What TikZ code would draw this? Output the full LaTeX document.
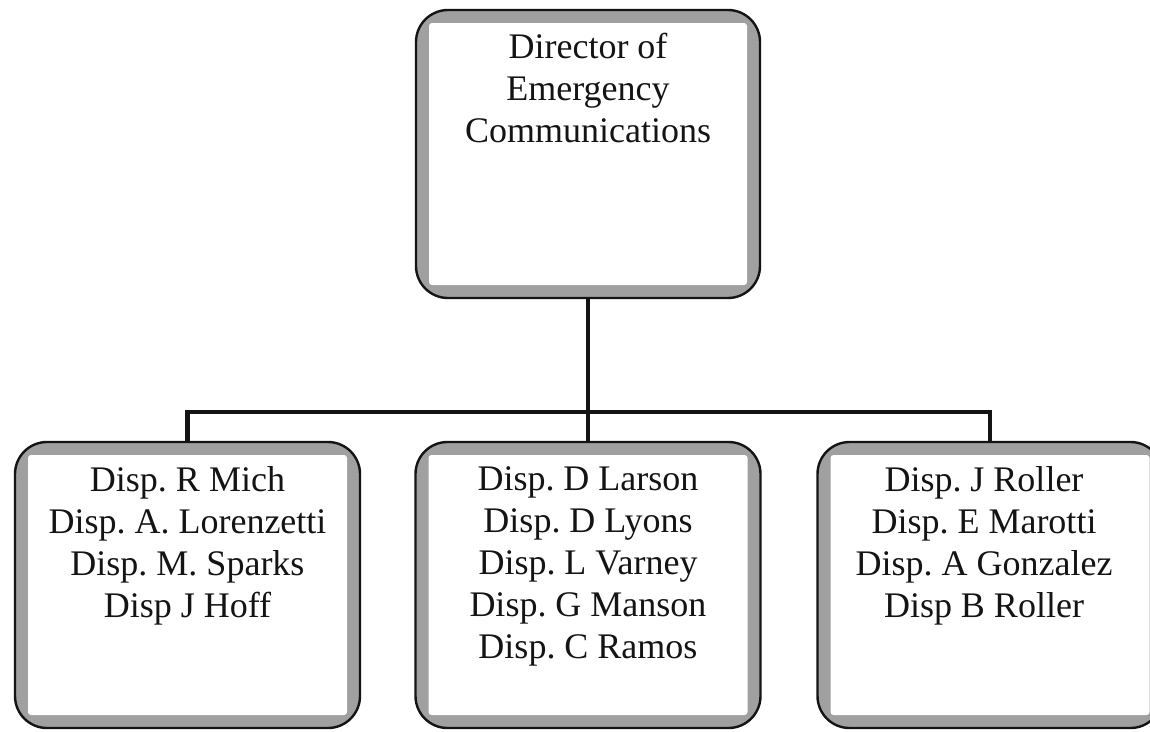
\documentclass[tikz,border=0pt]{standalone}
\usepackage{fontspec}
\setmainfont{Liberation Serif}
\frenchspacing
\definecolor{bandgray}{HTML}{A0A0A0}
\definecolor{inkblack}{HTML}{141414}
\tikzset{
  orgbox/.style={
    draw=inkblack, line width=2.4pt, rounded corners=32pt,
    fill=bandgray, minimum width=#1, minimum height=286pt, inner sep=0pt,
    path picture={
      \fill[white, rounded corners=3pt]
        ([xshift=13pt,yshift=13pt]path picture bounding box.south west)
        rectangle
        ([xshift=-13pt,yshift=-13pt]path picture bounding box.north east);
    }
  },
  orgbox/.default=345pt,
  names/.style={font=\fontsize{36}{42}\selectfont, align=center,
    inner sep=0pt, anchor=north, text=inkblack},
  conn/.style={draw=inkblack, line width=4.5pt, line join=miter}
}
\begin{document}
\begin{tikzpicture}[x=1pt,y=-1pt]
  \useasboundingbox (0,0) rectangle (1150,731);
  \fill[white] (0,0) rectangle (1150,731);

  % boxes
  \node[orgbox=344pt, minimum height=288pt] (top) at (588,154) {};
  \node[orgbox] (left)  at (187.5,585) {};
  \node[orgbox] (mid)   at (588,585) {};
  \node[orgbox] (right) at (990,585) {};

  % connectors
  \coordinate (bar) at (top.south |- 0,412);
  \draw[conn] (top.south) -- (bar);
  \draw[conn] (left.north) |- (bar) -| (right.north);
  \draw[conn] (bar) -- (mid.north);

  % texts
  \node[names] (toptext) at ([yshift=-24pt]top.north)
    {Director of\\Emergency\\Communications};
  \node[names] (lefttext) at ([yshift=-26pt]left.north)
    {Disp. R Mich\\Disp. A. Lorenzetti\\Disp. M. Sparks\\Disp J Hoff};
  \node[names] (midtext) at ([yshift=-26pt]mid.north)
    {Disp. D Larson\\Disp. D Lyons\\Disp. L Varney\\Disp. G Manson\\Disp. C Ramos};
  \node[names] (righttext) at ([xshift=-6pt,yshift=-26pt]right.north)
    {Disp. J Roller\\Disp. E Marotti\\Disp. A Gonzalez\\Disp B Roller};
\end{tikzpicture}
\end{document}
